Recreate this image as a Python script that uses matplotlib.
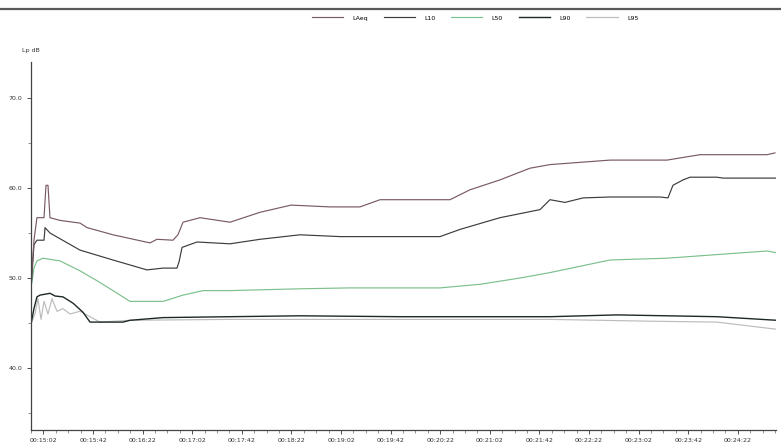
import matplotlib
matplotlib.use("Agg")
import matplotlib.pyplot as plt
from matplotlib.lines import Line2D
from matplotlib.ticker import MultipleLocator

# time in seconds from start of measurement, level in dB
laeq_t = [0, 2.4, 4.8, 10.5, 12.1, 13.7, 15.3, 23.4, 39.5, 45.2, 66.1, 96, 101.6, 114.5,
          118.5, 122.6, 136.3, 160.5, 184.7, 209.7, 241.1, 265.3, 281.5, 337.9, 354,
          378.2, 402.4, 418.5, 466.9, 512.9, 539.5, 593.5, 600]
laeq_v = [49.2, 54.2, 56.7, 56.7, 60.3, 60.3, 56.7, 56.4, 56.1, 55.6, 54.8, 53.9, 54.3, 54.2,
          54.8, 56.2, 56.7, 56.2, 57.3, 58.1, 57.9, 57.9, 58.7, 58.7, 59.8,
          60.9, 62.2, 62.6, 63.1, 63.1, 63.7, 63.7, 63.9]

l10_t = [0, 2.4, 4.8, 10.5, 11.3, 15.3, 39.5, 66.1, 93.5, 106.5, 117.7, 119.4, 121.8,
         133.9, 160.5, 184.7, 216.9, 249.2, 297.6, 329.8, 346, 378.2, 410.5, 418.5,
         430.6, 445.2, 466.9, 507.3, 513.7, 517.7, 525.8, 531.5, 553.2, 558.1, 601.6]
l10_v = [48.7, 53.7, 54.2, 54.2, 55.6, 55, 53.1, 52, 50.9, 51.1, 51.1, 51.8, 53.4,
         54, 53.8, 54.3, 54.8, 54.6, 54.6, 54.6, 55.4, 56.7, 57.6, 58.7,
         58.4, 58.9, 59, 59, 58.9, 60.3, 60.9, 61.2, 61.2, 61.1, 61.1]

l50_t = [0, 2.4, 4.8, 9.7, 23.4, 39.5, 53.2, 66.1, 79.8, 93.5, 106.5, 122.6, 138.7,
         160.5, 216.9, 257.3, 329.8, 362.1, 394.4, 418.5, 466.9, 512.9, 553.2, 593.5, 601.6]
l50_v = [48.9, 51.1, 51.9, 52.2, 51.9, 50.8, 49.7, 48.6, 47.4, 47.4, 47.4, 48.1, 48.6,
         48.6, 48.8, 48.9, 48.9, 49.3, 50, 50.6, 52, 52.2, 52.6, 53, 52.8]

l90_t = [0, 2.4, 4.8, 7.3, 15.3, 19.4, 25.8, 33.9, 41.9, 47.6, 61.3, 74.2, 79.8, 106.5,
         160.5, 216.9, 297.6, 418.5, 472.6, 553.2, 601.6]
l90_v = [44.9, 46.6, 47.9, 48.1, 48.3, 48, 47.9, 47.2, 46.2, 45.1, 45.1, 45.1, 45.3, 45.6,
         45.7, 45.8, 45.7, 45.7, 45.9, 45.7, 45.3]

l95_t = [0, 3.2, 5.6, 8.1, 10.5, 13.7, 16.9, 21, 25.8, 31.5, 39.5, 47.6, 55.6, 79.8,
         160.5, 297.6, 418.5, 499.2, 553.2, 601.6]
l95_v = [44.9, 46, 47.7, 45.4, 47.4, 46, 47.7, 46.3, 46.6, 46, 46.3, 45.7, 45.1, 45.3,
         45.4, 45.4, 45.4, 45.2, 45.1, 44.3]

tick_pos = [10 + 40 * i for i in range(15)]
tick_labels = ["00:15:02", "00:15:42", "00:16:22", "00:17:02", "00:17:42", "00:18:22",
               "00:19:02", "00:19:42", "00:20:22", "00:21:02", "00:21:42", "00:22:22",
               "00:23:02", "00:23:42", "00:24:22"]
y_ticks = [40, 50, 60, 70]

names = ["LAeq", "L10", "L50", "L90", "L95"]
colors = ["#7a5a62", "#3c3c3c", "#7cc08c", "#1e2828", "#bcbcbc"]
widths = [0.85, 0.85, 0.85, 1.0, 0.85]

fig = plt.figure(figsize=(7.81, 4.48), dpi=100)
ax = fig.add_axes([31 / 781, 1 - 430 / 448, 745 / 781, 368 / 448])

series = [(laeq_t, laeq_v), (l10_t, l10_v), (l50_t, l50_v), (l90_t, l90_v), (l95_t, l95_v)]
# draw lightest lines first so the darker ones stay on top
for i in [4, 2, 3, 1, 0]:
    t, v = series[i]
    ax.plot(t, v, color=colors[i], lw=widths[i])

ax.set_xlim(0, 600.8)
ax.set_ylim(70 - (430 - 98) / 9, 70 + 36 / 9)
ax.set_xticks(tick_pos)
ax.set_xticklabels(tick_labels)
ax.xaxis.set_minor_locator(MultipleLocator(10))
ax.set_yticks(y_ticks)
ax.set_yticklabels([f"{v:.1f}" for v in y_ticks])
ax.yaxis.set_minor_locator(MultipleLocator(5))
ax.tick_params(axis="both", labelsize=4.5, colors="#333333", length=3, width=0.6, pad=3)
ax.tick_params(which="minor", length=2, width=0.5, color="#666666")
for s in ["top", "right"]:
    ax.spines[s].set_visible(False)
for s in ["left", "bottom"]:
    ax.spines[s].set_color("#444444")
    ax.spines[s].set_linewidth(0.9)

fig.text(31 / 781, 1 - 52 / 448, "Lp dB", fontsize=4.5, color="#333333", ha="center")

handles = [Line2D([0], [0], color=c, lw=w) for c, w in zip(colors, widths)]
fig.legend(handles, names, loc="center", bbox_to_anchor=(475 / 781, 1 - 18 / 448),
           ncol=5, frameon=False, fontsize=4.5, handlelength=5, columnspacing=2.5,
           handletextpad=1.5)

# header rule along the top edge
fig.add_artist(Line2D([0, 1], [1 - 9 / 448, 1 - 9 / 448], color="#5a5a5a", lw=1.6))

fig.savefig("out.png", dpi=100)
